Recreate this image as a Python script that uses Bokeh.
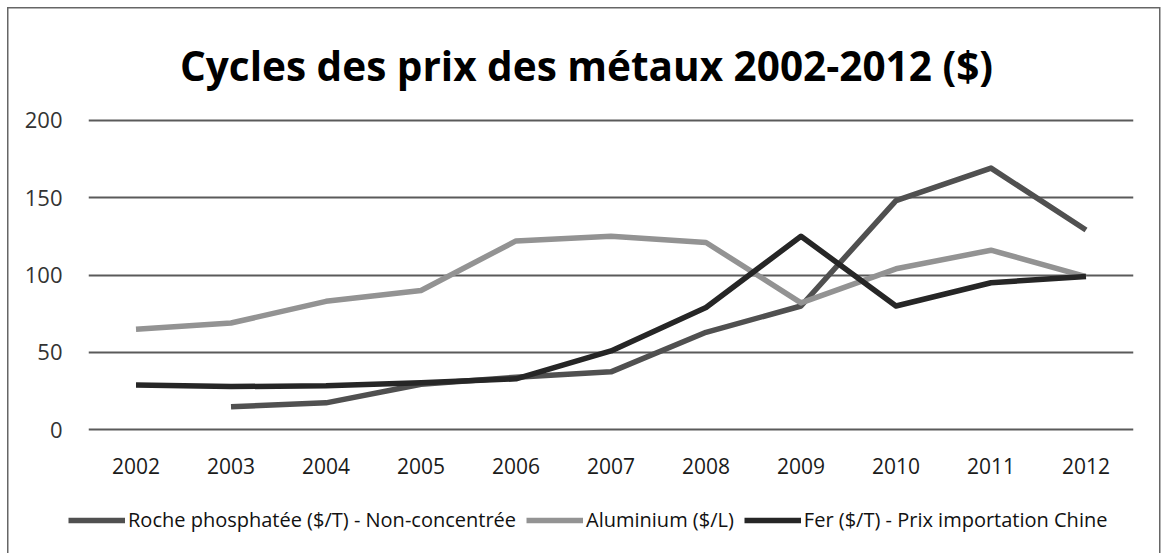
import numpy as np
from bokeh.plotting import figure
from bokeh.layouts import column
from bokeh.core.properties import value
from bokeh.models import (ColumnDataSource, FactorRange, Range1d, Legend, LegendItem,
                          FixedTicker)
from bokeh.embed import file_html
from bokeh.resources import INLINE

# ---- data ----
years = ["2002", "2003", "2004", "2005", "2006", "2007", "2008", "2009", "2010", "2011", "2012"]
roche = [np.nan, 15, 17.5, 29.5, 34, 37.5, 63, 80, 148, 169, 129]
aluminium = [65, 69, 83, 90, 122, 125, 121, 82, 104, 116, 99]
fer = [29, 28, 28.5, 30.5, 33, 51, 79, 125, 80, 95, 99]
y_ticks = [0, 50, 100, 150, 200]

title_text = "Cycles des prix des métaux 2002-2012 ($)"
names = ["Roche phosphatée ($/T) - Non-concentrée", "Aluminium ($/L)", "Fer ($/T) - Prix importation Chine"]
colors = ["#505050", "#939393", "#262626"]

FONT = "Open Sans"
W = 1162
TH = 103   # title strip height
LH = 58    # legend strip height


def strip(h):
    f = figure(width=W, height=h, output_backend="svg", toolbar_location=None,
               x_range=Range1d(0, W), y_range=Range1d(0, h),
               x_axis_location=None, y_axis_location=None,
               min_border_left=0, min_border_right=0, min_border_top=0, min_border_bottom=0)
    f.frame_align = False
    f.outline_line_color = None
    f.background_fill_alpha = 0
    f.border_fill_alpha = 0
    f.grid.visible = False
    return f


# ---------------- title strip ----------------
ts = strip(TH)
ts.text(x=[586], y=[TH - 65], text=[title_text], text_align="center", text_baseline="alphabetic",
        text_font=value(FONT), text_font_style="bold", text_font_size="40.5px", text_color="#000000")

# ---------------- main chart ----------------
src = ColumnDataSource(dict(x=years, roche=np.array(roche, dtype=float),
                            alu=np.array(aluminium, dtype=float),
                            fer=np.array(fer, dtype=float)))

p = figure(frame_width=1045, frame_height=313, output_backend="svg", toolbar_location=None,
           x_range=FactorRange(*years), y_range=Range1d(-1, 201),
           min_border_left=88, min_border_right=29, min_border_top=15, min_border_bottom=64)
p.frame_align = False
p.outline_line_color = None
p.background_fill_color = "white"
p.border_fill_alpha = 0

p.line("x", "roche", source=src, line_color=colors[0], line_width=5.5, line_join="round")
p.line("x", "alu", source=src, line_color=colors[1], line_width=5.5, line_join="round")
p.line("x", "fer", source=src, line_color=colors[2], line_width=5.5, line_join="round")

p.yaxis.ticker = FixedTicker(ticks=y_ticks)
p.yaxis.axis_line_color = None
p.yaxis.major_tick_line_color = None
p.yaxis.minor_tick_line_color = None
p.yaxis.major_label_standoff = 20
p.yaxis.major_label_text_font = FONT
p.yaxis.major_label_text_font_size = "22px"
p.yaxis.major_label_text_color = "#333333"

p.xaxis.axis_line_color = None
p.xaxis.major_tick_line_color = None
p.xaxis.major_label_standoff = 20
p.xaxis.major_label_text_font = FONT
p.xaxis.major_label_text_font_size = "21px"
p.xaxis.major_label_text_color = "#1a1a1a"

p.xgrid.grid_line_color = None
p.ygrid.grid_line_color = "#5a5a5a"
p.ygrid.grid_line_width = 2

# ---------------- legend strip ----------------
q = strip(LH)
# dummy renderers (outside the visible range) that only supply the legend swatches
rs = [q.line(x=[-100, -90], y=[-100, -100], line_color=c, line_width=5.5) for c in colors]

legend = Legend(items=[LegendItem(label=n, renderers=[r]) for n, r in zip(names, rs)],
                orientation="horizontal", location=(68, 20),
                label_text_font=FONT, label_text_font_size="20px", label_text_color="#111111",
                glyph_width=57, glyph_height=22, label_standoff=3, spacing=10,
                padding=0, margin=0, border_line_color=None, background_fill_alpha=0)
q.add_layout(legend, "center")

line_c = "#666666"
layout = column(ts, p, q, spacing=0, styles={
    "background-color": "white",
    "background-image": f"linear-gradient({line_c},{line_c}), linear-gradient({line_c},{line_c}), linear-gradient({line_c},{line_c})",
    "background-size": "1.5px 100%, 1153px 1.5px, 1.5px 100%",
    "background-position": "7px 7px, 7px 7px, 1159px 7px",
    "background-repeat": "no-repeat",
})

open("out.html", "w").write(file_html(layout, INLINE))
